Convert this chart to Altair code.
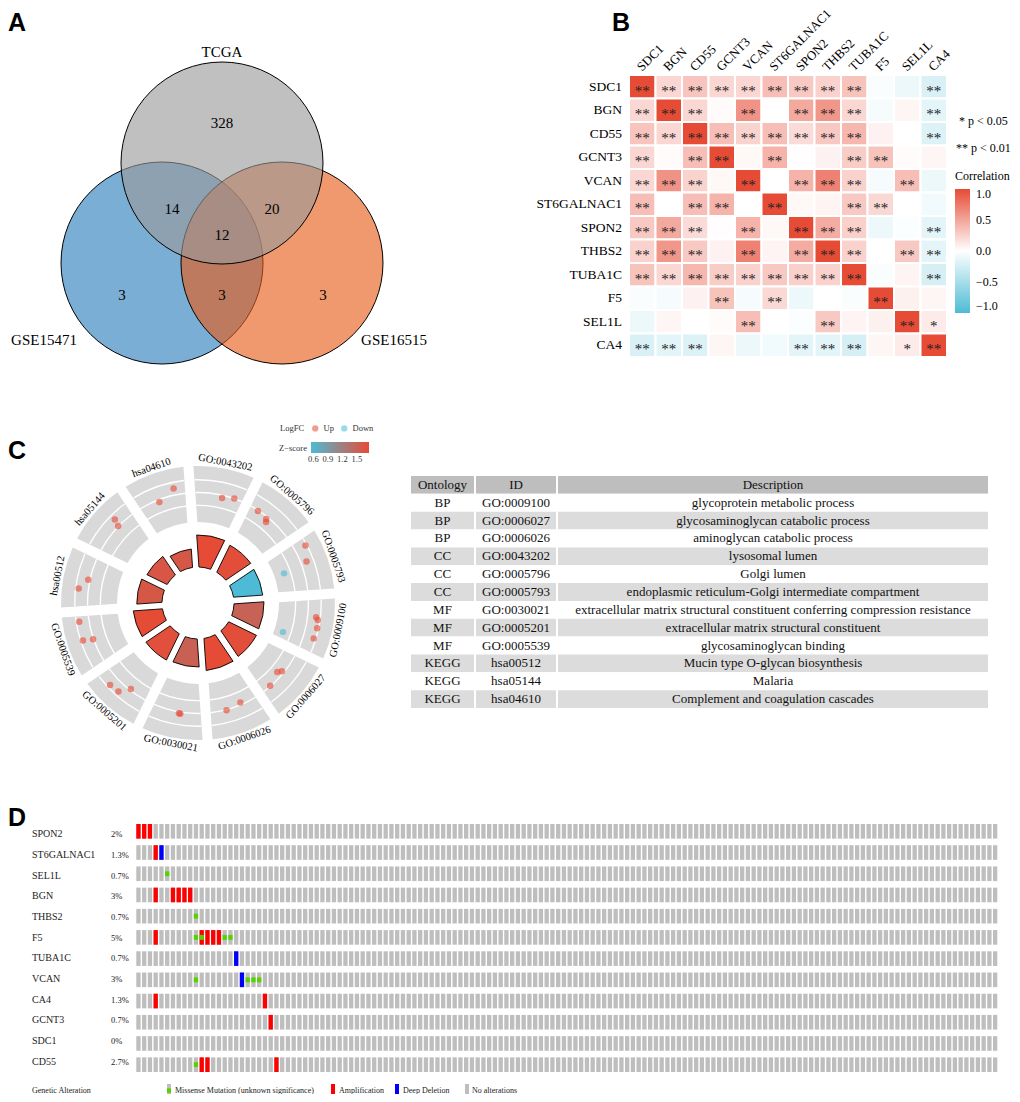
import math
import altair as alt
import pandas as pd

M = 8            # page margin: chart pixel = reference pixel - M
W, H = 1004, 1086
SERIF = "Liberation Serif"
SANS = "Liberation Sans"


def P(v):
    return v - M


# ============================ DATA ============================
# ---- Panel A: Venn ----
venn_sets = ["GSE15471", "GSE16515", "TCGA"]
venn_counts = [328, 14, 20, 12, 3, 3, 3]

# ---- Panel B: correlation heatmap ----
corr_genes = ["SDC1", "BGN", "CD55", "GCNT3", "VCAN", "ST6GALNAC1",
              "SPON2", "THBS2", "TUBA1C", "F5", "SEL1L", "CA4"]
corr_values = [
    [1.00, 0.22, 0.32, 0.22, 0.22, 0.36, 0.30, 0.25, 0.33, -0.03, -0.10, -0.22],
    [0.22, 1.00, 0.22, 0.02, 0.60, 0.00, 0.48, 0.58, 0.22, -0.05, 0.05, -0.15],
    [0.32, 0.22, 1.00, 0.36, 0.24, 0.36, 0.20, 0.30, 0.40, 0.07, 0.00, -0.19],
    [0.22, 0.02, 0.36, 1.00, 0.04, 0.42, 0.01, 0.07, 0.28, 0.33, 0.02, 0.05],
    [0.22, 0.60, 0.24, 0.04, 1.00, 0.00, 0.42, 0.70, 0.25, -0.05, 0.36, -0.10],
    [0.36, 0.00, 0.36, 0.42, 0.00, 1.00, 0.04, 0.06, 0.30, 0.21, 0.00, -0.08],
    [0.30, 0.48, 0.20, 0.01, 0.42, 0.04, 1.00, 0.46, 0.26, -0.10, -0.02, -0.15],
    [0.25, 0.58, 0.30, 0.07, 0.70, 0.06, 0.46, 1.00, 0.25, 0.00, 0.30, -0.15],
    [0.33, 0.22, 0.40, 0.28, 0.25, 0.30, 0.26, 0.25, 1.00, -0.03, 0.06, -0.23],
    [-0.03, -0.05, 0.07, 0.33, -0.05, 0.21, -0.10, 0.00, -0.03, 1.00, 0.08, 0.05],
    [-0.10, 0.05, 0.00, 0.02, 0.36, 0.00, -0.02, 0.30, 0.06, 0.08, 1.00, 0.11],
    [-0.22, -0.15, -0.19, 0.05, -0.10, -0.08, -0.15, -0.15, -0.23, 0.05, 0.11, 1.00],
]
corr_sig = [
    ["**", "**", "**", "**", "**", "**", "**", "**", "**", "", "", "**"],
    ["**", "**", "**", "", "**", "", "**", "**", "**", "", "", "**"],
    ["**", "**", "**", "**", "**", "**", "**", "**", "**", "", "", "**"],
    ["**", "", "**", "**", "", "**", "", "", "**", "**", "", ""],
    ["**", "**", "**", "", "**", "", "**", "**", "**", "", "**", ""],
    ["**", "", "**", "**", "", "**", "", "", "**", "**", "", ""],
    ["**", "**", "**", "", "**", "", "**", "**", "**", "", "", "**"],
    ["**", "**", "**", "", "**", "", "**", "**", "**", "", "**", "**"],
    ["**", "**", "**", "**", "**", "**", "**", "**", "**", "", "", "**"],
    ["", "", "", "**", "", "**", "", "", "", "**", "", ""],
    ["", "", "", "", "**", "", "", "**", "", "", "**", "*"],
    ["**", "**", "**", "", "", "", "**", "**", "**", "", "*", "**"],
]

# ---- Panel C: GO circle ----
go_terms = ["GO:0043202", "GO:0005796", "GO:0005793", "GO:0009100",
            "GO:0006027", "GO:0006026", "GO:0030021", "GO:0005201",
            "GO:0005539", "hsa00512", "hsa05144", "hsa04610"]
go_neglog10_p = [8.0, 7.5, 7.3, 7.5, 7.7, 8.0, 7.0, 7.3, 7.3, 6.3, 5.6, 4.6]
go_zscore = [1.75, 1.72, 0.55, 1.50, 1.72, 1.75, 1.52, 1.70, 1.74, 1.62, 1.63, 1.62]
gene_term = [0, 0, 1, 1, 1, 2, 2, 2, 3, 3, 3, 3, 3, 4, 4, 4,
             5, 5, 6, 6, 7, 7, 7, 8, 8, 8, 9, 9, 10, 10, 11, 11]
gene_pos = [0.58, 0.84, 0.17, 0.42, 0.46, 0.12, 0.42, 0.50,
            0.33, 0.38, 0.54, 0.75, 0.83, 0.42, 0.50, 0.83,
            0.33, 0.67, 0.42, 0.45, 0.375, 0.54, 0.75, 0.50, 0.54, 0.92,
            0.33, 0.54, 0.625, 0.67, 0.42, 0.79]
gene_logfc = [1.35, 1.70, 1.60, 1.40, 1.10, 3.10, 2.40, -0.75,
              2.75, 3.00, 3.10, 3.00, -0.90, 1.40, 1.00, 1.60,
              1.40, 1.75, 1.90, 1.85, 1.50, 2.75, 2.90, 1.75, 3.00, 2.90,
              2.90, 1.90, 1.75, 2.60, 1.40, 2.50]

tbl_header = ["Ontology", "ID", "Description"]
tbl_ontology = ["BP", "BP", "BP", "CC", "CC", "CC", "MF", "MF", "MF",
                "KEGG", "KEGG", "KEGG"]
tbl_id = ["GO:0009100", "GO:0006027", "GO:0006026", "GO:0043202",
          "GO:0005796", "GO:0005793", "GO:0030021", "GO:0005201",
          "GO:0005539", "hsa00512", "hsa05144", "hsa04610"]
tbl_desc = ["glycoprotein metabolic process",
            "glycosaminoglycan catabolic process",
            "aminoglycan catabolic process",
            "lysosomal lumen",
            "Golgi lumen",
            "endoplasmic reticulum-Golgi intermediate compartment",
            "extracellular matrix structural constituent conferring compression resistance",
            "extracellular matrix structural constituent",
            "glycosaminoglycan binding",
            "Mucin type O-glycan biosynthesis",
            "Malaria",
            "Complement and coagulation cascades"]

# ---- Panel D: oncoprint ----
onco_genes = ["SPON2", "ST6GALNAC1", "SEL1L", "BGN", "THBS2", "F5",
              "TUBA1C", "VCAN", "CA4", "GCNT3", "SDC1", "CD55"]
onco_pct = ["2%", "1.3%", "0.7%", "3%", "0.7%", "5%", "0.7%", "3%",
            "1.3%", "0.7%", "0%", "2.7%"]
onco_n_samples = 150
onco_amp = {"SPON2": [0, 1, 2], "ST6GALNAC1": [3], "BGN": [3, 6, 7, 8, 9],
            "F5": [3, 11, 12, 13, 14], "CA4": [3, 22], "GCNT3": [23],
            "CD55": [11, 12, 24]}
onco_del = {"ST6GALNAC1": [4], "TUBA1C": [17], "VCAN": [18]}
onco_mis = {"SEL1L": [5], "THBS2": [10], "F5": [10, 11, 15, 16],
            "VCAN": [10, 19, 20, 21], "CD55": [10]}

# ============================ STYLE / LAYOUT ============================
VENN_COLORS = ["#2A7DBA", "#E75A17", "#9A9A9A"]
VENN_CENTERS = {"GSE15471": (-0.594, 0.0), "GSE16515": (0.594, 0.0), "TCGA": (0.0, 0.99)}
VENN_REGION_POS = [(0.0, 1.386), (-0.495, 0.535), (0.495, 0.535), (0.0, 0.277),
                   (-0.99, -0.317), (0.0, -0.317), (1.0, -0.317)]
VENN_LABEL_POS = {"TCGA": (0.0, 2.09), "GSE15471": (-1.762, -0.76), "GSE16515": (1.703, -0.76)}

layers = []

# ---------------- panel letters ----------------
for letter, lx, ly in [("A", 0, 22.5), ("B", 612, 22.5), ("C", 5, 451), ("D", 5, 818)]:
    layers.append(
        alt.Chart(pd.DataFrame({"t": [letter]})).mark_text(
            font=SANS, fontSize=25, fontWeight="bold", align="left", color="black"
        ).encode(x=alt.value(max(P(lx), 0)), y=alt.value(P(ly)), text="t:N")
    )

# ---------------- Panel A ----------------
xsA = alt.Scale(domain=[-2, 2], range=[P(20), P(424)])
ysA = alt.Scale(domain=[-2, 2], range=[P(465), P(61)])
venn_df = pd.DataFrame({
    "set": venn_sets,
    "vx": [VENN_CENTERS[s][0] for s in venn_sets],
    "vy": [VENN_CENTERS[s][1] for s in venn_sets],
    "ord": list(range(len(venn_sets))),
})
layers.append(
    alt.Chart(venn_df).mark_point(
        shape="circle", filled=True, size=202 * 202, stroke="black",
        strokeWidth=1, fillOpacity=0.62, strokeOpacity=1, opacity=1
    ).encode(
        x=alt.X("vx:Q", scale=xsA, axis=None),
        y=alt.Y("vy:Q", scale=ysA, axis=None),
        fill=alt.Fill("set:N", scale=alt.Scale(domain=venn_sets, range=VENN_COLORS), legend=None),
        order=alt.Order("ord:Q"),
    )
)
reg_df = pd.DataFrame({
    "n": venn_counts,
    "vx": [p[0] for p in VENN_REGION_POS],
    "vy": [p[1] for p in VENN_REGION_POS],
})
layers.append(
    alt.Chart(reg_df).mark_text(font=SERIF, fontSize=15, color="black", baseline="middle").encode(
        x=alt.X("vx:Q", scale=xsA, axis=None), y=alt.Y("vy:Q", scale=ysA, axis=None), text="n:Q")
)
lab_df = pd.DataFrame({
    "s": venn_sets,
    "vx": [VENN_LABEL_POS[s][0] for s in venn_sets],
    "vy": [VENN_LABEL_POS[s][1] for s in venn_sets],
})
layers.append(
    alt.Chart(lab_df).mark_text(font=SERIF, fontSize=15, color="black", baseline="middle").encode(
        x=alt.X("vx:Q", scale=xsA, axis=None), y=alt.Y("vy:Q", scale=ysA, axis=None), text="s:N")
)

# ---------------- Panel B ----------------
bdf = pd.DataFrame([
    {"row": rg, "col": cg, "r": corr_values[i][j], "sig": corr_sig[i][j]}
    for i, rg in enumerate(corr_genes) for j, cg in enumerate(corr_genes)
])
xsB = alt.Scale(domain=corr_genes, range=[P(629), P(947)], paddingInner=0, paddingOuter=0)
ysB = alt.Scale(domain=corr_genes, range=[P(75), P(357)], paddingInner=0, paddingOuter=0)
corr_color = alt.Scale(domain=[-1, 0, 1], range=["#4DBBD5", "#FFFFFF", "#E64B35"], interpolate="rgb")
layers.append(
    alt.Chart(bdf).mark_rect(stroke="white", strokeWidth=2).encode(
        x=alt.X("col:N", scale=xsB, axis=None),
        y=alt.Y("row:N", scale=ysB, axis=None),
        color=alt.Color("r:Q", scale=corr_color, legend=alt.Legend(
            title="Correlation", orient="none", legendX=P(955), legendY=P(171),
            direction="vertical", gradientLength=124, gradientThickness=15,
            values=[-1, -0.5, 0, 0.5, 1], format=".1f",
            titleFont=SERIF, titleFontSize=12, titleFontWeight="normal", titleColor="black",
            labelFont=SERIF, labelFontSize=12, labelColor="black",
            gradientStrokeWidth=0, titlePadding=6, labelOffset=6)),
    )
)
layers.append(
    alt.Chart(bdf).mark_text(font=SERIF, fontSize=15, baseline="middle", dy=4, color="#222222").encode(
        x=alt.X("col:N", scale=xsB, axis=None),
        y=alt.Y("row:N", scale=ysB, axis=None),
        text="sig:N",
    )
)
glab = pd.DataFrame({"g": corr_genes})
layers.append(
    alt.Chart(glab).mark_text(font=SERIF, fontSize=13.5, align="right", baseline="middle", color="black").encode(
        y=alt.Y("g:N", scale=ysB, axis=None), x=alt.value(P(622)), text="g:N")
)
xsBlab = alt.Scale(domain=corr_genes, range=[P(629) - 3, P(947) - 3], paddingInner=0, paddingOuter=0)
layers.append(
    alt.Chart(glab).mark_text(font=SERIF, fontSize=12.8, align="left", baseline="middle",
                              angle=315, color="black").encode(
        x=alt.X("g:N", scale=xsBlab, axis=None), y=alt.value(P(69)), text="g:N")
)
for txt, tx, ty in [("* p < 0.05", 959, 121), ("** p < 0.01", 956, 148)]:
    layers.append(
        alt.Chart(pd.DataFrame({"t": [txt]})).mark_text(
            font=SERIF, fontSize=12, align="left", baseline="middle", color="black"
        ).encode(x=alt.value(P(tx)), y=alt.value(P(ty)), text="t:N")
    )

# ---------------- Panel C: circle ----------------
CX, CY = P(198), P(603)
TH0 = math.radians(-4)
thS = alt.Scale(domain=[0, 12], range=[TH0, TH0 + 2 * math.pi])
LFC_DOM = [-2, 5]
R_RING = [81, 137]
rRing = alt.Scale(type="linear", zero=False, domain=LFC_DOM, range=R_RING)
sect = pd.DataFrame({"k": list(range(12)), "k1": list(range(1, 13)),
                     "lo": [LFC_DOM[0]] * 12, "hi": [LFC_DOM[1]] * 12})
layers.append(
    alt.Chart(sect).mark_arc(padAngle=0.063, color="#D9D9D9").encode(
        theta=alt.Theta("k:Q", scale=thS, stack=False), theta2="k1:Q",
        radius=alt.Radius("hi:Q", scale=rRing), radius2="lo:Q",
        x=alt.value(CX), y=alt.value(CY))
)
ring_lines = [0.0, 1.6, 3.2]
line_df = pd.DataFrame([{"k": k, "k1": k + 1, "v": v, "v2": v + 0.17} for k in range(12) for v in ring_lines])
layers.append(
    alt.Chart(line_df).mark_arc(padAngle=0.063, color="white").encode(
        theta=alt.Theta("k:Q", scale=thS, stack=False), theta2="k1:Q",
        radius=alt.Radius("v2:Q", scale=rRing), radius2="v:Q",
        x=alt.value(CX), y=alt.value(CY))
)
bars_df = pd.DataFrame({"k": list(range(12)), "k1": list(range(1, 13)),
                        "p": go_neglog10_p, "z": go_zscore, "base": [0] * 12})
rBar = alt.Scale(type="linear", zero=False, domain=[0, 8], range=[36, 68])
layers.append(
    alt.Chart(bars_df).mark_arc(padAngle=0.09, stroke="black", strokeWidth=0.9).encode(
        theta=alt.Theta("k:Q", scale=thS, stack=False), theta2="k1:Q",
        radius=alt.Radius("p:Q", scale=rBar), radius2="base:Q",
        color=alt.Color("z:Q", scale=alt.Scale(domain=[0.55, 1.75], range=["#4DBBD5", "#E64B35"],
                                               interpolate="rgb"),
                        legend=alt.Legend(
                            title="Z\u2212score", orient="none", legendX=P(279), legendY=P(442),
                            direction="horizontal", titleOrient="left", gradientLength=58,
                            gradientThickness=11, values=[0.6, 0.9, 1.2, 1.5], format=".1f",
                            titleFont=SERIF, titleFontSize=8.5, titleFontWeight="normal",
                            titleColor="#333333", labelFont=SERIF, labelFontSize=8.5,
                            labelColor="#333333", gradientStrokeWidth=0, titlePadding=4)),
        x=alt.value(CX), y=alt.value(CY))
)
xsC = alt.Scale(domain=[-200, 200], range=[CX - 200, CX + 200])
ysC = alt.Scale(domain=[-200, 200], range=[CY + 200, CY - 200])
kpx = (R_RING[1] - R_RING[0]) / (LFC_DOM[1] - LFC_DOM[0])
pts = pd.DataFrame({"k": gene_term, "pos": gene_pos, "lfc": gene_logfc})
layers.append(
    alt.Chart(pts).transform_calculate(
        th="(-1 + 30 * datum.k + 24 * datum.pos) * PI / 180",
        rr=f"{R_RING[0]} + (datum.lfc - ({LFC_DOM[0]})) * {kpx}",
        px="datum.rr * sin(datum.th)",
        py="datum.rr * cos(datum.th)",
        dir="datum.lfc > 0 ? 'Up' : 'Down'",
    ).mark_circle(size=42, opacity=0.62).encode(
        x=alt.X("px:Q", scale=xsC, axis=None),
        y=alt.Y("py:Q", scale=ysC, axis=None),
        color=alt.Color("dir:N", scale=alt.Scale(domain=["Up", "Down"], range=["#E64B35", "#4DBBD5"]),
                        legend=alt.Legend(
                            title="LogFC", orient="none", legendX=P(280), legendY=P(424),
                            direction="horizontal", titleOrient="left", symbolType="circle",
                            symbolSize=40, symbolOpacity=0.55, symbolStrokeWidth=0,
                            titleFont=SERIF, titleFontSize=8.5, titleFontWeight="normal",
                            titleColor="#333333", labelFont=SERIF, labelFontSize=8.5,
                            labelColor="#333333", columnPadding=6, titlePadding=6)),
    )
)
term_df = pd.DataFrame({"k": list(range(12)), "term": go_terms})
layers.append(
    alt.Chart(term_df).transform_calculate(
        thd="30 * datum.k + 11",
        th="datum.thd * PI / 180",
        px="143 * sin(datum.th)",
        py="143 * cos(datum.th)",
        ang="((datum.thd > 90 && datum.thd < 270) ? datum.thd - 180 : datum.thd) + 360",
        ang2="datum.ang % 360",
    ).mark_text(font=SERIF, fontSize=10.5, baseline="middle", align="center", color="black").encode(
        x=alt.X("px:Q", scale=xsC, axis=None),
        y=alt.Y("py:Q", scale=ysC, axis=None),
        angle=alt.Angle("ang2:Q", scale=None),
        text="term:N",
    )
)

# ---------------- Panel C: table ----------------
TBL_COLS = [(411, 474), (476, 556), (558, 988)]
ysT = alt.Scale(domain=list(range(13)), range=[P(476), P(708)], paddingInner=0, paddingOuter=0)
tbl_bg = pd.DataFrame({"row": list(range(13)), "cls": ["h"] + ["w", "g"] * 6})
bg_scale = alt.Scale(domain=["h", "w", "g"], range=["#BEBEBE", "#FFFFFF", "#DCDCDC"])
tbl_cols_data = [[tbl_header[0]] + tbl_ontology, [tbl_header[1]] + tbl_id, [tbl_header[2]] + tbl_desc]
for (a, b), col_vals in zip(TBL_COLS, tbl_cols_data):
    layers.append(
        alt.Chart(tbl_bg).mark_rect().encode(
            x=alt.value(P(a)), x2=alt.value(P(b)),
            y=alt.Y("row:O", scale=ysT, axis=None),
            fill=alt.Fill("cls:N", scale=bg_scale, legend=None))
    )
    cdf = pd.DataFrame({"row": list(range(13)), "t": col_vals})
    layers.append(
        alt.Chart(cdf).mark_text(font=SERIF, fontSize=13, baseline="middle", align="center",
                                 color="#111111").encode(
            x=alt.value(P((a + b) / 2)),
            y=alt.Y("row:O", scale=ysT, axis=None),
            text="t:N")
    )

# ---------------- Panel D: oncoprint ----------------
xsD = alt.Scale(domain=list(range(onco_n_samples)), range=[P(136.3), P(997.3)],
                paddingInner=0.25, paddingOuter=0)
ysD = alt.Scale(domain=onco_genes, range=[P(824), P(1072)], paddingInner=0.31, paddingOuter=0)
ysDm = alt.Scale(domain=onco_genes, range=[P(828.9), P(1067.1)], paddingInner=0.769, paddingOuter=0)

grid = pd.DataFrame([{"gene": g, "s": s} for g in onco_genes for s in range(onco_n_samples)])
layers.append(
    alt.Chart(grid).mark_rect(color="#BEBEBE").encode(
        x=alt.X("s:O", scale=xsD, axis=None),
        y=alt.Y("gene:N", scale=ysD, axis=None))
)
cna_rows = [{"gene": g, "s": s, "type": "Amplification"} for g, ss in onco_amp.items() for s in ss] + \
           [{"gene": g, "s": s, "type": "Deep Deletion"} for g, ss in onco_del.items() for s in ss]
layers.append(
    alt.Chart(pd.DataFrame(cna_rows)).mark_rect().encode(
        x=alt.X("s:O", scale=xsD, axis=None),
        y=alt.Y("gene:N", scale=ysD, axis=None),
        color=alt.Color("type:N", scale=alt.Scale(domain=["Amplification", "Deep Deletion"],
                                                  range=["#FF0000", "#0000FF"]), legend=None))
)
mis_rows = [{"gene": g, "s": s} for g, ss in onco_mis.items() for s in ss]
layers.append(
    alt.Chart(pd.DataFrame(mis_rows)).mark_rect(color="#53D400").encode(
        x=alt.X("s:O", scale=xsD, axis=None),
        y=alt.Y("gene:N", scale=ysDm, axis=None))
)
odf = pd.DataFrame({"gene": onco_genes, "pct": onco_pct})
layers.append(
    alt.Chart(odf).mark_text(font=SERIF, fontSize=10, align="left", baseline="middle", color="#222222").encode(
        x=alt.value(P(32)), y=alt.Y("gene:N", scale=ysD, axis=None), text="gene:N")
)
layers.append(
    alt.Chart(odf).mark_text(font=SERIF, fontSize=8.5, align="left", baseline="middle", color="#222222").encode(
        x=alt.value(P(111)), y=alt.Y("gene:N", scale=ysD, axis=None), text="pct:N")
)
one = pd.DataFrame({"a": [0]})
legend_items = [
    ("Genetic Alteration", 32, None, None),
    ("Missense Mutation (unknown significance)", 175, 167, "mis"),
    ("Amplification", 339, 331, "#FF0000"),
    ("Deep Deletion", 403, 395, "#0000FF"),
    ("No alterations", 472, 465, "#BEBEBE"),
]
for txt, tx, ix, kind in legend_items:
    if kind == "mis":
        layers.append(alt.Chart(one).mark_rect(color="#BEBEBE").encode(
            x=alt.value(P(ix)), x2=alt.value(P(ix + 4)), y=alt.value(P(1084)), y2=alt.value(P(1097))))
        layers.append(alt.Chart(one).mark_rect(color="#53D400").encode(
            x=alt.value(P(ix)), x2=alt.value(P(ix + 4)), y=alt.value(P(1088.3)), y2=alt.value(P(1092.8))))
    elif kind is not None:
        layers.append(alt.Chart(one).mark_rect(color=kind).encode(
            x=alt.value(P(ix)), x2=alt.value(P(ix + 4)), y=alt.value(P(1084)), y2=alt.value(P(1097))))
    layers.append(
        alt.Chart(pd.DataFrame({"t": [txt]})).mark_text(
            font=SERIF, fontSize=8, align="left", baseline="middle", color="#222222"
        ).encode(x=alt.value(P(tx)), y=alt.value(P(1091)), text="t:N")
    )

chart = alt.layer(*layers).resolve_scale(
    x="independent", y="independent", color="independent", fill="independent",
    theta="independent", radius="independent"
).resolve_legend(
    color="independent", fill="independent"
).properties(
    width=W, height=H, padding=0, autosize=alt.AutoSizeParams(type="none")
).configure_view(strokeWidth=0)

chart.save("out.html", embed_options={"renderer": "svg", "actions": False})
